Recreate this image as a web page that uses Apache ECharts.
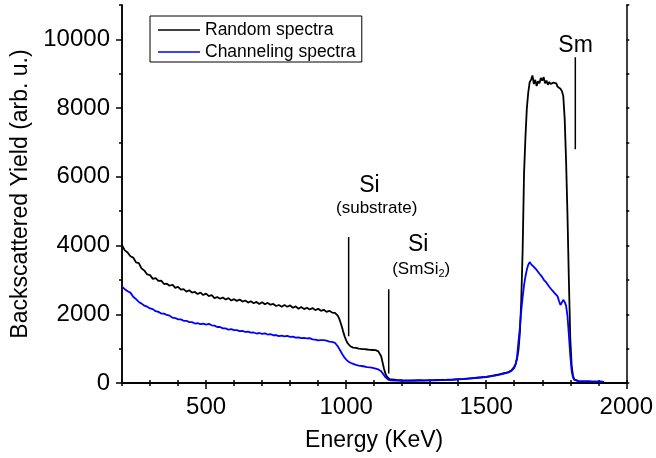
<!DOCTYPE html>
<html>
<head>
<meta charset="utf-8">
<script src="https://cdn.jsdelivr.net/npm/echarts@6/dist/echarts.min.js"></script>
<style>
html,body{margin:0;padding:0;background:#fff;}
#chart{width:656px;height:458px;}
</style>
</head>
<body>
<div id="chart"></div>
<script>
// ---- data ----
const energy = [
200,210,220,230,240,250,260,270,280,290,300,310,320,330,340,350,360,370,380,390,400,410,420,430,440,450,460,470,480,490,500,510,520,530,540,550,560,570,580,590,600,610,620,630,640,650,660,670,680,690,700,710,720,730,740,750,760,770,780,790,800,810,820,830,840,850,860,870,880,890,900,910,920,930,940,950,
955,960,965,970,975,980,985,990,995,1000,1005,1010,1015,1020,1025,1030,1035,1040,1045,1050,1055,1060,1065,1070,1075,1080,1085,1090,1095,1100,1105,1110,1115,1120,1125,1130,1135,1140,1145,1150,1155,1160,
1180,1200,1220,1240,1260,1280,1300,1320,1340,1360,1380,1400,1420,1440,1460,1480,1500,1520,1540,1560,1580,
1590,1595,1600,1605,1610,1615,1620,1625,1630,1635,1640,1645,1650,1655,1660,1665,1670,1675,1680,1685,1690,1695,1700,1705,1710,1715,1720,1725,1730,1735,1740,1745,1750,1755,1760,1765,1770,1775,1780,1785,1790,1795,1800,1805,1810,1815,1820,
1830,1840,1850,1860,1870,1880,1890,1900,1910,1920
];
const randomYield = [
4010,3860,3800,3690,3650,3510,3490,3330,3270,3160,
3140,3030,3050,2970,2980,2880,2890,2830,2860,2770,
2800,2720,2730,2660,2700,2630,2650,2590,2630,2560,
2600,2530,2560,2470,2500,2450,2490,2430,2470,2400,
2440,2390,2430,2370,2400,2340,2380,2320,2360,2300,
2350,2290,2330,2280,2300,2240,2270,2220,2270,2220,
2260,2190,2230,2160,2210,2150,2190,2140,2180,2120,
2160,2100,2130,2070,2100,2050,
2080,2040,2010,1960,1880,1760,1630,1480,1350,1250,
1160,1110,1070,1050,1030,1010,1020,990,1000,980,
990,970,985,960,975,950,965,945,960,940,
955,935,920,880,780,600,420,280,190,140,115,100,
90,80,78,75,80,78,85,88,92,95,100,110,120,135,150,165,180,210,240,280,320,
370,410,470,560,700,950,1450,2400,3860,6100,
7150,8000,8450,8750,8820,8950,8700,8820,8640,8780,
8720,8880,8800,8900,8720,8800,8680,8760,8700,8650,
8740,8690,8720,8620,8660,8560,8500,8350,7700,6480,
4900,3000,1300,500,200,100,70,
55,50,48,45,45,42,40,40,38,35
];
const channelingYield = [
2800,2730,2670,2630,2510,2440,2360,2310,2250,2220,
2170,2150,2090,2070,2020,2020,1980,1960,1900,1890,
1850,1850,1810,1810,1770,1770,1730,1740,1710,1730,
1700,1720,1680,1670,1630,1630,1590,1590,1550,1565,
1540,1540,1510,1515,1485,1495,1465,1470,1440,1455,
1430,1445,1410,1420,1390,1395,1365,1380,1355,1370,
1340,1350,1320,1330,1305,1315,1295,1305,1270,1265,
1240,1250,1245,1235,1205,1195,
1190,1170,1120,1070,1000,930,860,790,730,680,
640,610,590,575,555,550,525,530,505,510,
495,495,480,480,465,470,455,455,440,440,
420,420,395,370,340,290,230,170,125,100,85,80,
70,65,62,65,68,70,75,80,85,90,95,105,115,130,145,160,175,200,230,265,310,
350,400,440,540,750,1200,1600,2100,2500,2850,
3100,3300,3440,3520,3460,3430,3380,3340,3290,3250,
3180,3140,3080,3010,2960,2920,2880,2800,2750,2700,
2660,2610,2560,2520,2380,2270,2300,2420,2360,2250,
1950,1400,800,350,150,90,70,
55,50,47,45,43,42,40,38,37,35
];
const seriesNames = ['Random spectra', 'Channeling spectra'];
const xMajorTicks = [500, 1000, 1500, 2000];
const yMajorTicks = [0, 2000, 4000, 6000, 8000, 10000];
// annotation marker lines: energy, top yield, bottom yield
const markerEnergy = [1818, 1009, 1152];
const markerTop = [9480, 4250, 2727];
const markerBottom = [6800, 1360, 274];
// annotation texts
const noteText = ['Sm', 'Si', '(substrate)', 'Si', '(SmSi{sub|2})'];
const noteEnergy = [1819, 1083, 1109, 1257, 1268];
const noteYield = [9831, 5755, 5086, 4038, 3310];
const noteSize = [23, 23, 17, 23, 17];

// ---- chart ----
const FONT = '"Liberation Sans", Arial, Helvetica, sans-serif';
const chart = echarts.init(document.getElementById('chart'), null, {renderer: 'canvas'});
const pair = (xs, ys) => xs.map((x, i) => [x, ys[i]]);
const axisLine = {show: true, lineStyle: {color: '#000', width: 1.5}};
const plain = v => String(v);

const series = [
  {name: seriesNames[0], type: 'line', data: pair(energy, randomYield), symbol: 'none',
   lineStyle: {color: '#000', width: 1.8}, itemStyle: {color: '#000'}, z: 2},
  {name: seriesNames[1], type: 'line', data: pair(energy, channelingYield), symbol: 'none',
   lineStyle: {color: '#0000ff', width: 1.8}, itemStyle: {color: '#0000ff'}, z: 3}
];
markerEnergy.forEach((e, i) => {
  series.push({type: 'line', data: [[e, markerTop[i]], [e, markerBottom[i]]], symbol: 'none',
    silent: true, lineStyle: {color: '#000', width: 1.5}, z: 4});
});
const subStyle = {fontSize: 11, fontFamily: FONT, color: '#000', padding: [9, 0, 0, 0]};
series.push({
  type: 'scatter', symbolSize: 0, silent: true, z: 5,
  itemStyle: {color: '#000', opacity: 1},
  data: noteText.map((t, i) => ({
    value: [noteEnergy[i], noteYield[i]], name: t,
    label: {fontSize: noteSize[i], color: '#000', fontFamily: FONT, rich: {sub: subStyle}}
  })),
  label: {show: true, position: 'inside', color: '#000', fontFamily: FONT, formatter: p => p.name}
});

chart.setOption({
  animation: false,
  backgroundColor: '#fff',
  grid: {left: 122, right: 27, top: 5, bottom: 75, containLabel: false},
  legend: {
    data: seriesNames.map(n => ({name: n, icon: 'rect'})),
    orient: 'vertical', left: 150, top: 16,
    padding: [5, 6, 1, 8], itemGap: 4, itemWidth: 42, itemHeight: 1.6,
    borderColor: '#000', borderWidth: 1, borderRadius: 0,
    textStyle: {fontSize: 17.5, fontFamily: FONT, color: '#000', lineHeight: 17}
  },
  xAxis: [
    {type: 'value', position: 'bottom', min: 200, max: 2000, interval: 100,
     axisLine: axisLine, axisTick: {show: true, length: 3, lineStyle: {color: '#000', width: 1.5}},
     axisLabel: {show: false}, splitLine: {show: false}},
    {type: 'value', position: 'bottom', min: 200, max: 2000, interval: 100,
     axisLine: axisLine,
     axisTick: {show: true, length: 6, customValues: xMajorTicks, lineStyle: {color: '#000', width: 1.5}},
     axisLabel: {show: true, customValues: xMajorTicks, formatter: plain, fontSize: 24, fontFamily: FONT, color: '#000', margin: 12},
     splitLine: {show: false},
     name: 'Energy (KeV)', nameLocation: 'middle', nameGap: 46,
     nameTextStyle: {fontSize: 23, fontFamily: FONT, color: '#000'}},
    {type: 'value', position: 'top', min: 200, max: 2000, interval: 100,
     axisLine: axisLine, axisTick: {show: true, length: 3, lineStyle: {color: '#000', width: 1.5}},
     axisLabel: {show: false}, splitLine: {show: false}}
  ],
  yAxis: [
    {type: 'value', position: 'left', min: 0, max: 11000, interval: 1000,
     axisLine: axisLine, axisTick: {show: true, length: 3, lineStyle: {color: '#000', width: 1.5}},
     axisLabel: {show: false}, splitLine: {show: false}},
    {type: 'value', position: 'left', min: 0, max: 11000, interval: 1000,
     axisLine: axisLine,
     axisTick: {show: true, length: 6, customValues: yMajorTicks, lineStyle: {color: '#000', width: 1.5}},
     axisLabel: {show: true, customValues: yMajorTicks, formatter: plain, fontSize: 24, fontFamily: FONT, color: '#000', margin: 12},
     splitLine: {show: false},
     name: 'Backscattered Yield (arb. u.)', nameLocation: 'middle', nameGap: 90,
     nameTextStyle: {fontSize: 23, fontFamily: FONT, color: '#000'}},
    {type: 'value', position: 'right', min: 0, max: 11000, interval: 1000,
     axisLine: axisLine, axisTick: {show: true, length: 3, lineStyle: {color: '#000', width: 1.5}},
     axisLabel: {show: false}, splitLine: {show: false}}
  ],
  series: series
});
</script>
</body>
</html>
